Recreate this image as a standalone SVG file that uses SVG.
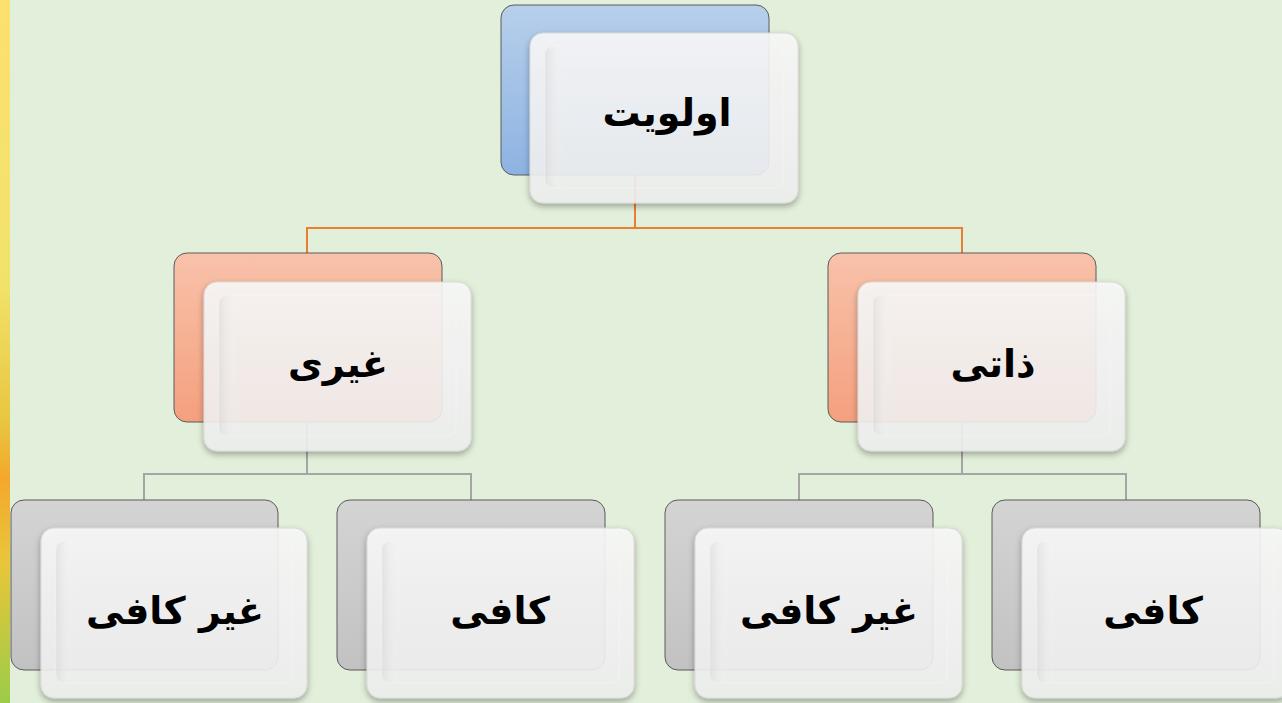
<svg xmlns="http://www.w3.org/2000/svg" width="1282" height="703" viewBox="0 0 1282 703">
<defs>
<linearGradient id="gBlue" x1="0" y1="0" x2="0" y2="1"><stop offset="0" stop-color="#b7cfeb"/><stop offset="1" stop-color="#8db3e2"/></linearGradient>
<linearGradient id="gSalmon" x1="0" y1="0" x2="0" y2="1"><stop offset="0" stop-color="#f8c2aa"/><stop offset="1" stop-color="#f4a07e"/></linearGradient>
<linearGradient id="gGray" x1="0" y1="0" x2="0" y2="1"><stop offset="0" stop-color="#d4d4d4"/><stop offset="1" stop-color="#c2c2c2"/></linearGradient>
<linearGradient id="gFront" x1="0" y1="0" x2="0" y2="1"><stop offset="0" stop-color="#fafafa"/><stop offset="1" stop-color="#f0f0f0"/></linearGradient>
<linearGradient id="gInner" x1="0" y1="0" x2="1" y2="0"><stop offset="0" stop-color="#d0d0d0" stop-opacity="0.45"/><stop offset="0.08" stop-color="#ffffff" stop-opacity="0"/></linearGradient>
<linearGradient id="gStrip" x1="0" y1="0" x2="0" y2="1"><stop offset="0" stop-color="#fde070"/><stop offset="0.4" stop-color="#f1e36a"/><stop offset="0.6" stop-color="#e8c640"/><stop offset="0.68" stop-color="#f3a82c"/><stop offset="0.8" stop-color="#e9c63a"/><stop offset="1" stop-color="#9ccc48"/></linearGradient>
<filter id="sh" x="-10%" y="-10%" width="120%" height="130%"><feDropShadow dx="0" dy="3" stdDeviation="3" flood-color="#000" flood-opacity="0.35"/></filter>
</defs>
<style>
.back{stroke:#5a5a5a;stroke-width:1}
.front{fill:url(#gFront);fill-opacity:0.88;stroke:#d8d8d8;stroke-width:1;filter:url(#sh)}
.inner{fill:url(#gInner);stroke:#ffffff;stroke-opacity:0.25;stroke-width:1}
.lbl{font-family:"DejaVu Sans","Noto Sans",sans-serif;font-weight:bold;font-size:38px;fill:#000;text-anchor:middle;dominant-baseline:central}
.c1{fill:none;stroke:#ed7d31;stroke-width:2}
.c2{fill:none;stroke:#a5a5a5;stroke-width:2}
</style>
<rect x="0" y="0" width="1282" height="703" fill="#e2efda"/>
<rect x="0" y="0" width="10" height="703" fill="url(#gStrip)"/>
<g id="connectors">
<path class="c1" d="M635 175V228M307 254V228H962V254"/>
<path class="c2" d="M307 422V474M144 500V474H471V500"/>
<path class="c2" d="M962 422V474M799 500V474H1126V500"/>
</g>
<g id="n-root">
<rect class="back" x="501" y="5" width="268" height="170" rx="13" fill="url(#gBlue)"/>
<rect class="front" x="530" y="33" width="268" height="170" rx="13"/>
<rect class="inner" x="545" y="46" width="238" height="142" rx="8"/>
<text class="lbl" x="667" y="113" direction="rtl">اولویت</text>
</g>
<g id="n-gheyri">
<rect class="back" x="174" y="253" width="268" height="169" rx="13" fill="url(#gSalmon)"/>
<rect class="front" x="204" y="282" width="267" height="169" rx="13"/>
<rect class="inner" x="219" y="295" width="237" height="141" rx="8"/>
<text class="lbl" x="338" y="364" direction="rtl">غیری</text>
</g>
<g id="n-zati">
<rect class="back" x="828" y="253" width="268" height="169" rx="13" fill="url(#gSalmon)"/>
<rect class="front" x="858" y="282" width="267" height="169" rx="13"/>
<rect class="inner" x="873" y="295" width="237" height="141" rx="8"/>
<text class="lbl" x="993" y="364" direction="rtl">ذاتی</text>
</g>
<g id="n-l-gheyrkafi">
<rect class="back" x="11" y="500" width="267" height="170" rx="13" fill="url(#gGray)"/>
<rect class="front" x="41" y="528" width="266" height="170" rx="13"/>
<rect class="inner" x="56" y="541" width="236" height="142" rx="8"/>
<text class="lbl" x="175" y="611" direction="rtl">غیر کافی</text>
</g>
<g id="n-l-kafi">
<rect class="back" x="337" y="500" width="268" height="170" rx="13" fill="url(#gGray)"/>
<rect class="front" x="367" y="528" width="267" height="170" rx="13"/>
<rect class="inner" x="382" y="541" width="237" height="142" rx="8"/>
<text class="lbl" x="500" y="611" direction="rtl">کافی</text>
</g>
<g id="n-r-gheyrkafi">
<rect class="back" x="665" y="500" width="268" height="170" rx="13" fill="url(#gGray)"/>
<rect class="front" x="695" y="528" width="267" height="170" rx="13"/>
<rect class="inner" x="710" y="541" width="237" height="142" rx="8"/>
<text class="lbl" x="829" y="611" direction="rtl">غیر کافی</text>
</g>
<g id="n-r-kafi">
<rect class="back" x="992" y="500" width="268" height="170" rx="13" fill="url(#gGray)"/>
<rect class="front" x="1022" y="528" width="267" height="170" rx="13"/>
<rect class="inner" x="1037" y="541" width="237" height="142" rx="8"/>
<text class="lbl" x="1153" y="611" direction="rtl">کافی</text>
</g>
</svg>
